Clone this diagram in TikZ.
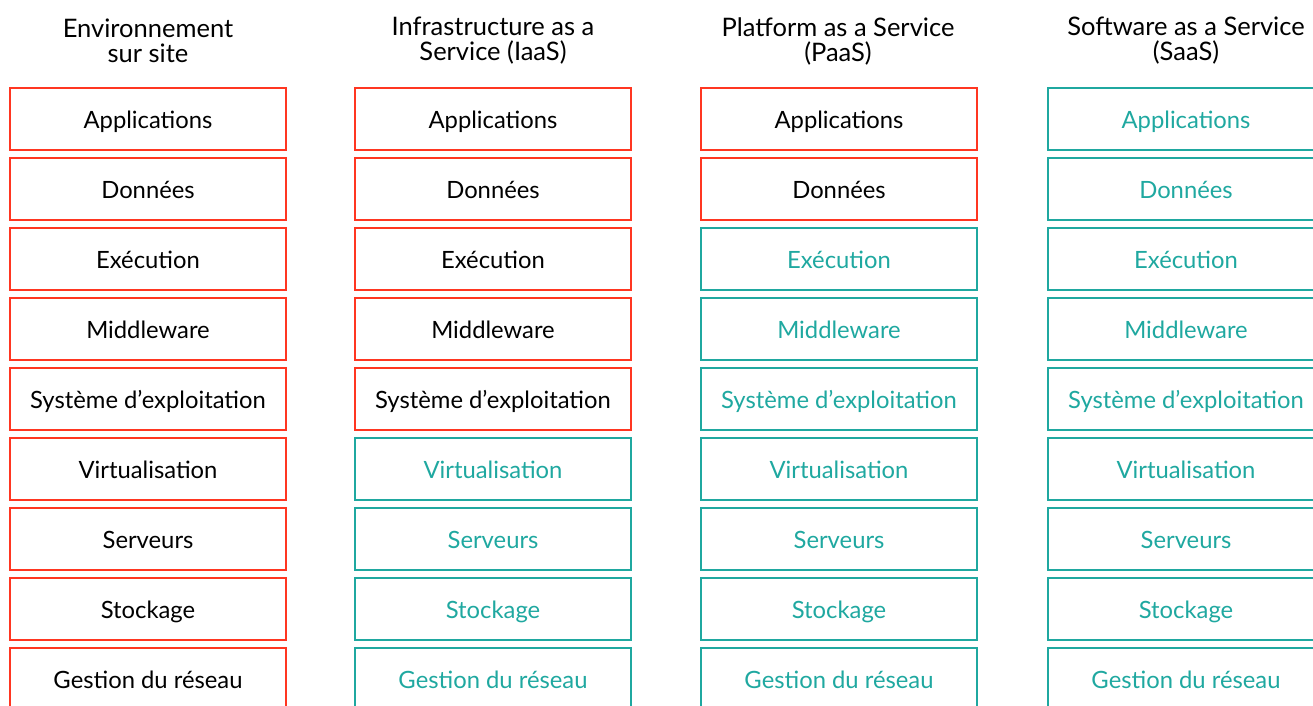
\documentclass[tikz,border=0pt]{standalone}
\usepackage{fontspec}
\usepackage{tikz}
\usepackage{xcolor}
\setmainfont{Lato}

\definecolor{clientred}{RGB}{255,54,33}
\definecolor{cloudteal}{RGB}{31,168,160}

\tikzset{
  layer/.style={rectangle, line width=2pt, minimum width=276pt, minimum height=62pt,
    inner sep=0pt, text height=20pt, text depth=2pt, font=\fontsize{23.8}{27}\selectfont},
  own/.style={layer, draw=clientred, text=black},
  cloud/.style={layer, draw=cloudteal, text=cloudteal},
  head/.style={align=center, font=\fontsize{25.5}{25}\selectfont}
}

\begin{document}
\begin{tikzpicture}[x=1pt, y=-1pt]
\useasboundingbox (0,0) rectangle (1313,705);

% headings
\node[head] (h1) at (148,41) {Environnement\\sur site};
\node[head] (h2) at (493,41) {Infrastructure as a\\Service (IaaS)};
\node[head] (h3) at (838,41) {Platform as a Service\\(PaaS)};
\node[head] (h4) at (1186,41) {Software as a Service\\(SaaS)};

% sur site
\node (s1) at (148,119) [own]{Applications};
\node (s2) at (148,189) [own]{Données};
\node (s3) at (148,259) [own]{Exécution};
\node (s4) at (148,329) [own]{Middleware};
\node (s5) at (148,399) [own]{Système d’exploitation};
\node (s6) at (148,469) [own]{Virtualisation};
\node (s7) at (148,539) [own]{Serveurs};
\node (s8) at (148,609) [own]{Stockage};
\node (s9) at (148,679) [own]{Gestion du réseau};

% IaaS
\node (i1) at (493,119) [own]{Applications};
\node (i2) at (493,189) [own]{Données};
\node (i3) at (493,259) [own]{Exécution};
\node (i4) at (493,329) [own]{Middleware};
\node (i5) at (493,399) [own]{Système d’exploitation};
\node (i6) at (493,469) [cloud]{Virtualisation};
\node (i7) at (493,539) [cloud]{Serveurs};
\node (i8) at (493,609) [cloud]{Stockage};
\node (i9) at (493,679) [cloud]{Gestion du réseau};

% PaaS
\node (p1) at (839,119) [own]{Applications};
\node (p2) at (839,189) [own]{Données};
\node (p3) at (839,259) [cloud]{Exécution};
\node (p4) at (839,329) [cloud]{Middleware};
\node (p5) at (839,399) [cloud]{Système d’exploitation};
\node (p6) at (839,469) [cloud]{Virtualisation};
\node (p7) at (839,539) [cloud]{Serveurs};
\node (p8) at (839,609) [cloud]{Stockage};
\node (p9) at (839,679) [cloud]{Gestion du réseau};

% SaaS
\node (x1) at (1186,119) [cloud]{Applications};
\node (x2) at (1186,189) [cloud]{Données};
\node (x3) at (1186,259) [cloud]{Exécution};
\node (x4) at (1186,329) [cloud]{Middleware};
\node (x5) at (1186,399) [cloud]{Système d’exploitation};
\node (x6) at (1186,469) [cloud]{Virtualisation};
\node (x7) at (1186,539) [cloud]{Serveurs};
\node (x8) at (1186,609) [cloud]{Stockage};
\node (x9) at (1186,679) [cloud]{Gestion du réseau};
\end{tikzpicture}
\end{document}
